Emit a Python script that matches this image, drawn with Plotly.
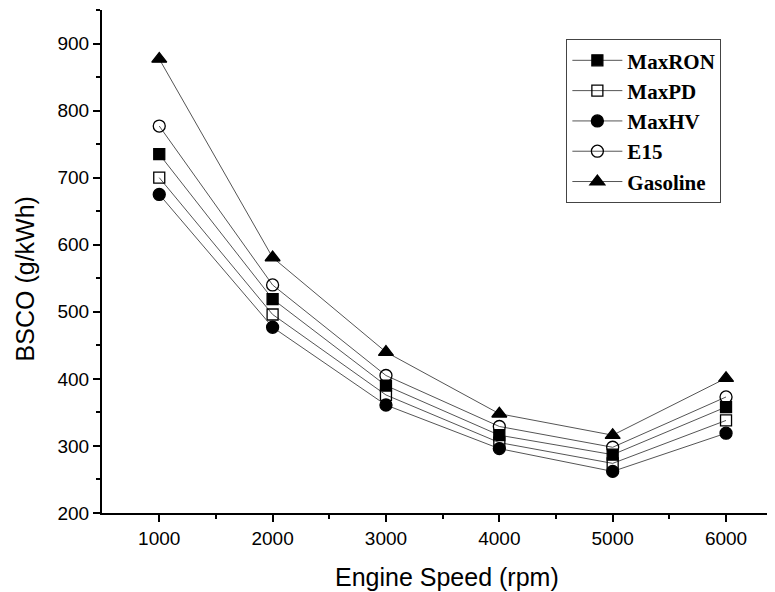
import plotly.graph_objects as go

speed = [1000, 2000, 3000, 4000, 5000, 6000]
maxron = [735, 519, 390, 316, 287, 358]
maxpd = [700, 496, 376, 305, 274, 338]
maxhv = [675, 477, 361, 296, 262, 319]
e15 = [777, 540, 405, 329, 298, 373]
gasoline = [877, 581, 440, 348, 316, 401]

x_title = "Engine Speed (rpm)"
y_title = "BSCO (g/kWh)"

series = [
    ("MaxRON", maxron, "square", 11),
    ("MaxPD", maxpd, "square-open", 11),
    ("MaxHV", maxhv, "circle", 12),
    ("E15", e15, "circle-open", 12),
    ("Gasoline", gasoline, "triangle-up", 13),
]

fig = go.Figure()
for name, vals, sym, size in series:
    fig.add_trace(go.Scatter(
        x=speed, y=vals, name=name, mode="lines+markers",
        line=dict(color="#555555", width=1),
        marker=dict(symbol=sym, size=size, color="black",
                    line=dict(color="black", width=1.3)),
    ))

# page body has an 8px margin, so the figure is sized to fit the window
fig.update_layout(
    width=767, height=584,
    margin=dict(l=94, r=0, t=2, b=79, autoexpand=False),
    plot_bgcolor="white", paper_bgcolor="white",
    showlegend=True,
    legend=dict(
        x=0.69, y=0.942, xanchor="left", yanchor="top",
        bgcolor="white", bordercolor="#444444", borderwidth=1,
        font=dict(family="Liberation Serif", size=21, color="black", weight="bold"),
        tracegroupgap=0, itemwidth=50,
    ),
    font=dict(family="Liberation Sans", color="black"),
    annotations=[
        dict(text=x_title, xref="paper", yref="paper", x=0.513, y=-0.127,
             xanchor="center", yanchor="middle", showarrow=False,
             font=dict(size=25, color="black")),
        dict(text=y_title, xref="paper", yref="paper", x=-0.114, y=0.465,
             xanchor="center", yanchor="middle", showarrow=False, textangle=-90,
             font=dict(size=25, color="black")),
    ],
)
fig.update_xaxes(
    range=[495, 6432], tickvals=[1000, 2000, 3000, 4000, 5000, 6000],
    ticks="outside", ticklen=7, tickwidth=1.5, tickcolor="black",
    minor=dict(tickvals=[1500, 2500, 3500, 4500, 5500], ticks="outside", ticklen=4, tickcolor="black"),
    showline=True, linecolor="black", linewidth=2, showgrid=False, zeroline=False,
    tickfont=dict(size=19), automargin=False,
)
fig.update_yaxes(
    range=[200, 950], tickvals=[200, 300, 400, 500, 600, 700, 800, 900],
    ticks="outside", ticklen=7, tickwidth=1.5, tickcolor="black",
    minor=dict(tickvals=[250, 350, 450, 550, 650, 750, 850, 950], ticks="outside", ticklen=4, tickcolor="black"),
    showline=True, linecolor="black", linewidth=2, showgrid=False, zeroline=False,
    tickfont=dict(size=19), automargin=False,
)
fig.write_html("out.html")
